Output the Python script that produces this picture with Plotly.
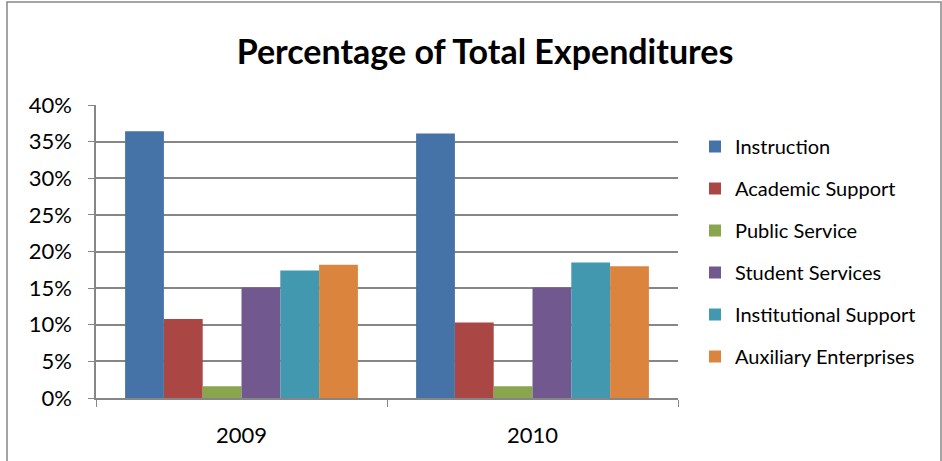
import plotly.graph_objects as go

years = ["2009", "2010"]
categories = ["Instruction", "Academic Support", "Public Service",
              "Student Services", "Institutional Support", "Auxiliary Enterprises"]
values_2009 = [0.364, 0.108, 0.016, 0.151, 0.174, 0.182]
values_2010 = [0.361, 0.103, 0.016, 0.151, 0.185, 0.180]
colors = ["#4572A7", "#AA4643", "#89A54E", "#71588F", "#4198AF", "#DB843D"]
y_ticks = [0, 0.05, 0.10, 0.15, 0.20, 0.25, 0.30, 0.35, 0.40]
y_tick_labels = ["0%", "5%", "10%", "15%", "20%", "25%", "30%", "35%", "40%"]

FONT = "Lato, 'Open Sans', sans-serif"

fig = go.Figure()
for i, cat in enumerate(categories):
    fig.add_trace(go.Bar(
        x=years, y=[values_2009[i], values_2010[i]], name=cat,
        marker=dict(color=colors[i], line=dict(width=0)),
        legendgroup=cat,
    ))

W, H = 942, 461
L, R, T, B = 96, 264, 105, 63
pw, ph = W - L - R, H - T - B

def px_x(p):
    return (p - L) / pw

def px_y(p):
    return 1 - (p - T) / ph

fig.update_layout(
    width=W, height=H,
    margin=dict(l=L, r=R, t=T, b=B, autoexpand=False),
    paper_bgcolor="white", plot_bgcolor="white",
    barmode="group", bargap=0.2, bargroupgap=0,
    title=dict(text="<b>Percentage of Total Expenditures</b>",
               font=dict(family=FONT, size=34, color="black"),
               x=485 / W, xanchor="center", y=1 - 52 / H, yanchor="middle"),
    font=dict(family=FONT, size=22, color="black"),
    showlegend=True,
    legend=dict(x=px_x(695), xanchor="left", y=px_y(127), yanchor="top",
                font=dict(family=FONT, size=20, color="black"),
                traceorder="grouped", tracegroupgap=13,
                itemwidth=30, bgcolor="rgba(0,0,0,0)"),
    yaxis=dict(range=[0, 0.40], tickvals=y_ticks, ticktext=y_tick_labels,
               showgrid=True, gridcolor="#868686", gridwidth=1.5,
               showline=True, linecolor="#868686", linewidth=1.5,
               ticks="outside", ticklen=6, tickcolor="#868686",
               ticklabelstandoff=12,
               tickfont=dict(family=FONT, size=22), zeroline=False),
    xaxis=dict(showline=True, linecolor="#868686", linewidth=1.5,
               ticks="outside", ticklen=7, tickcolor="#868686",
               tickson="boundaries", ticklabelstandoff=17,
               tickfont=dict(family=FONT, size=22), showgrid=False),
    shapes=[dict(type="rect", xref="paper", yref="paper",
                 x0=px_x(7), x1=px_x(941), y0=px_y(470), y1=px_y(2),
                 line=dict(color="#868686", width=1.5), fillcolor="rgba(0,0,0,0)",
                 layer="below")],
)

fig.write_html("out.html", config={"displayModeBar": False},
               post_script="document.body.style.margin='0';")
